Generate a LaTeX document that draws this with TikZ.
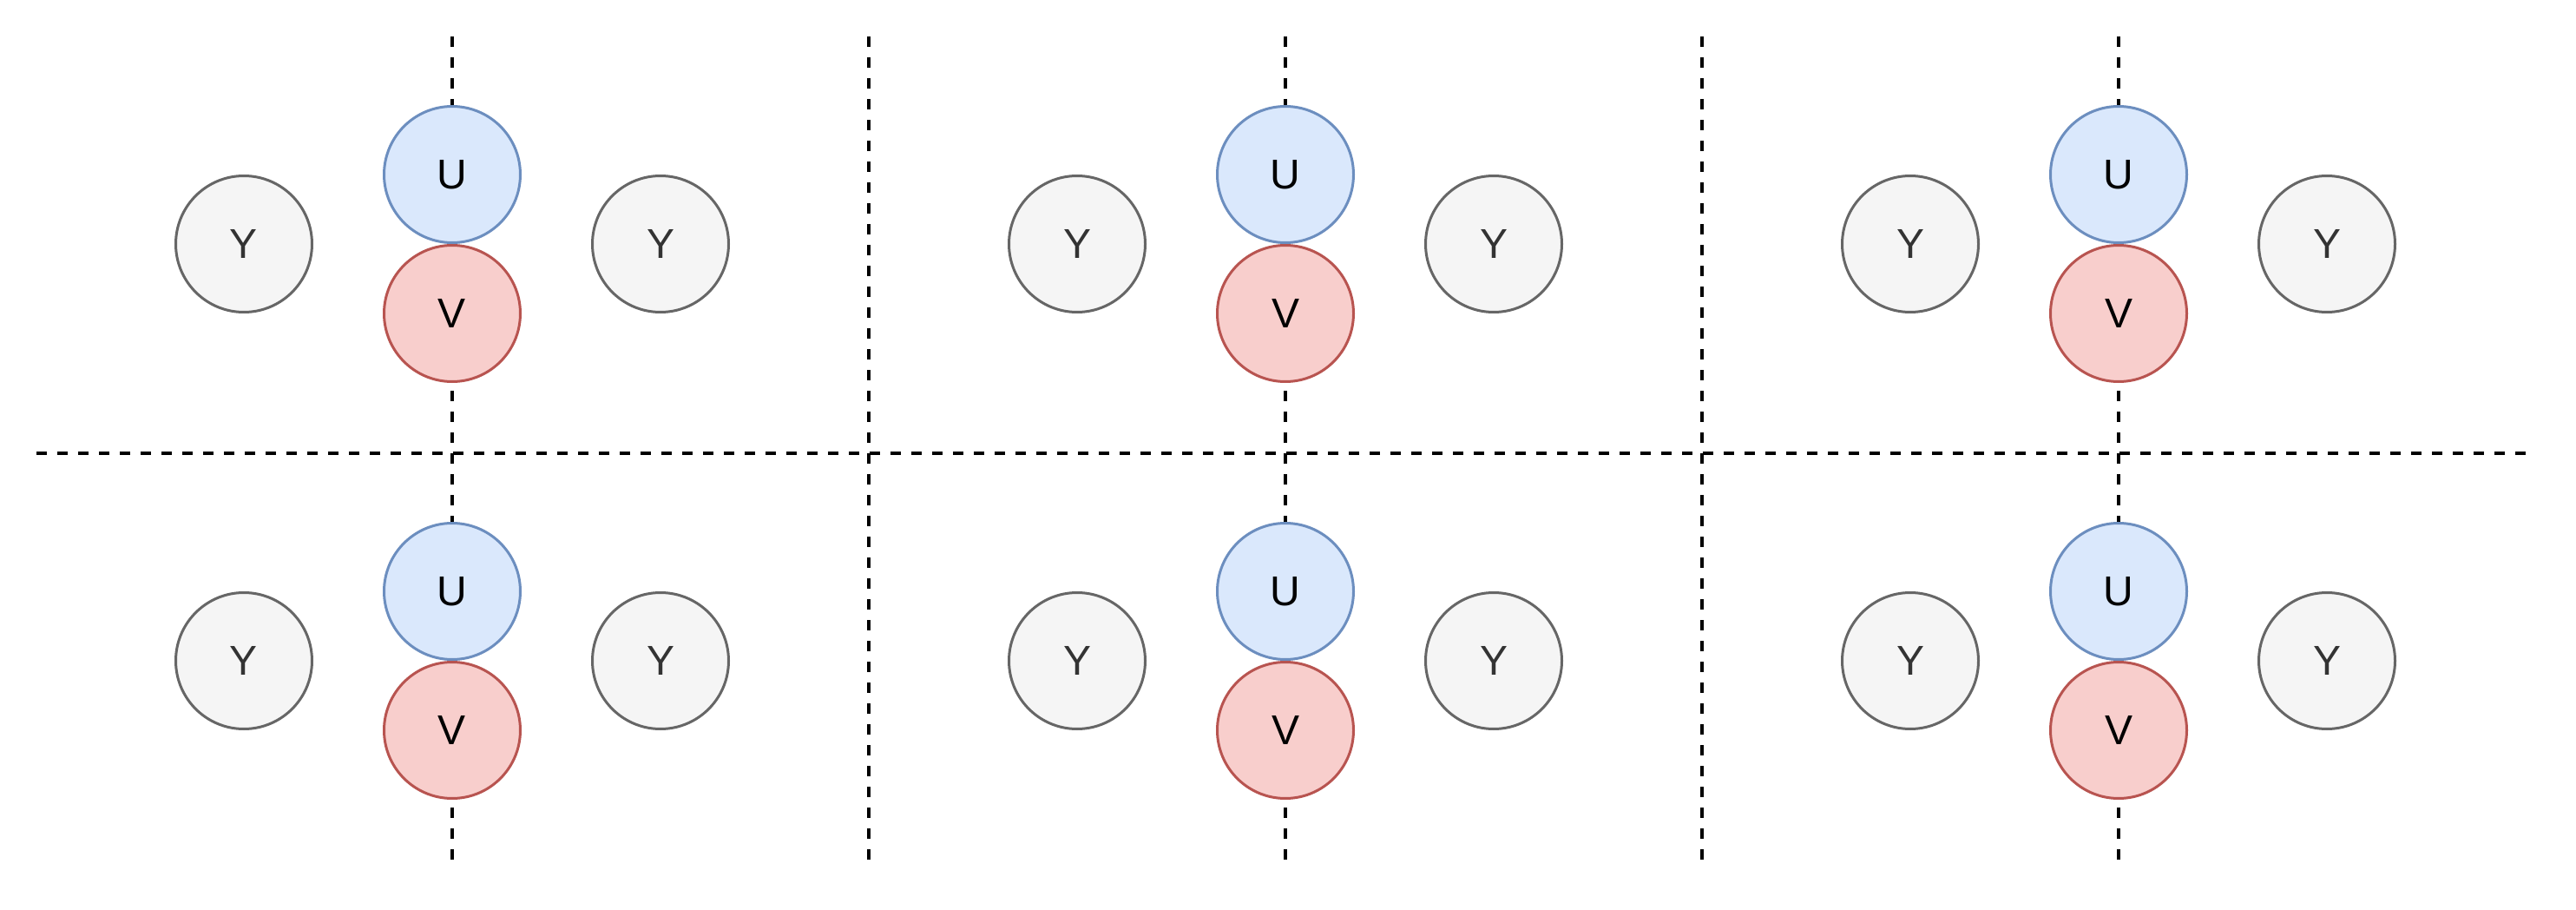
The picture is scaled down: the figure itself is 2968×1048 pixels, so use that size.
\documentclass[tikz,border=0pt]{standalone}
\usepackage{fontspec}
\setmainfont{Liberation Sans}

\definecolor{ufill}{RGB}{218,232,252}
\definecolor{udraw}{RGB}{108,142,191}
\definecolor{vfill}{RGB}{248,206,204}
\definecolor{vdraw}{RGB}{184,84,80}
\definecolor{yfill}{RGB}{245,245,245}
\definecolor{ydraw}{RGB}{102,102,102}
\definecolor{ytext}{RGB}{51,51,51}

\tikzset{every picture/.style={line width=0.75pt}}
\tikzset{
	sepline/.style={line width=1pt, dash pattern=on 3pt off 3pt},
	ball/.style={circle, minimum size=39.25pt, inner sep=0pt, line width=0.75pt, font=\fontsize{12}{14}\selectfont},
	uball/.style={ball, draw=udraw, fill=ufill},
	vball/.style={ball, draw=vdraw, fill=vfill},
	yball/.style={ball, draw=ydraw, fill=yfill, text=ytext}
}

\begin{document}
\begin{tikzpicture}[x=0.25pt,y=0.25pt,yscale=-1,xscale=1]
	\useasboundingbox (0,0) rectangle (2968,1048);

	%Straight Lines: horizontal divider
	\coordinate (hleft) at (42,522);
	\coordinate (hright) at (2910,522);
	\draw [sepline] (hleft) -- (hright);

	%Straight Lines: vertical dividers
	\foreach \d/\dx in {1/1001,2/1961} {
		\coordinate (div\d top) at (\dx,42);
		\coordinate (div\d bot) at (\dx,990);
		\draw [sepline] (div\d top) -- (div\d bot);
	}

	%Panels: axis line and circles
	\foreach \p/\cx in {a/521,b/1481,c/2441} {
		\coordinate (\p top) at (\cx,42);
		\coordinate (\p bot) at (\cx,990);
		\draw [sepline] (\p top) -- (\p bot);
		\foreach \r/\cy in {1/201,2/681} {
			% Shape: Circle
			\node [uball] (\p\r u) at (\cx,\cy) {U};
			\node [vball] (\p\r v) at (\cx,{\cy+160}) {V};
			\node [yball] (\p\r yl) at ({\cx-240},{\cy+80}) {Y};
			\node [yball] (\p\r yr) at ({\cx+240},{\cy+80}) {Y};
		}
	}
\end{tikzpicture}
\end{document}
